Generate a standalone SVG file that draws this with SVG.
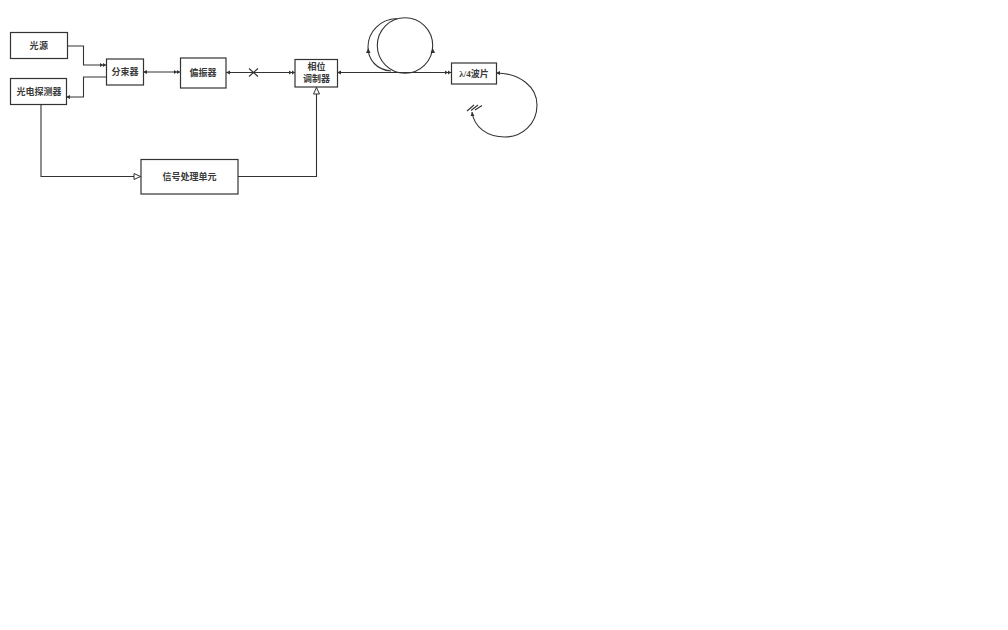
<svg xmlns="http://www.w3.org/2000/svg" width="1008" height="630" viewBox="0 0 1008 630">
<style>
.box{fill:#fff;stroke:#333;stroke-width:1.2}
.ln{fill:none;stroke:#333;stroke-width:1.1}
.t{font-family:"Liberation Serif","Noto Sans CJK SC",serif;font-size:9px;font-weight:700;fill:#3a3a3a;text-anchor:middle}
</style>
<defs>
<marker id="a" markerUnits="userSpaceOnUse" markerWidth="7" markerHeight="6" refX="6" refY="3" orient="auto-start-reverse"><path d="M0,1 L3,3 L0,5 Z M3,1 L6,3 L3,5 Z" fill="#333"/></marker>
<marker id="s" markerUnits="userSpaceOnUse" markerWidth="6" markerHeight="6" refX="4" refY="3" orient="auto-start-reverse"><path d="M0,1 L4,3 L0,5 Z" fill="#333"/></marker>
<marker id="o" markerUnits="userSpaceOnUse" markerWidth="9" markerHeight="8" refX="8" refY="4" orient="auto"><path d="M1,1 L7.500,4 L1,7 Z" fill="#fff" stroke="#333" stroke-width="1"/></marker>
</defs>
<rect width="1008" height="630" fill="#fff"/>
<g id="connectors">
<path class="ln" d="M67,46 H83.500 V65 H106" marker-end="url(#a)"/>
<path class="ln" d="M106,77 H83.500 V97 H66" marker-end="url(#s)"/>
<path class="ln" d="M143,72 H180" marker-start="url(#s)" marker-end="url(#a)"/>
<path class="ln" d="M226,72.500 H295" marker-start="url(#s)" marker-end="url(#a)"/>
<path class="ln" d="M249,68.500 L258,76.500 M258,68.500 L249,76.500"/>
<path class="ln" d="M337,72.500 H451" marker-start="url(#s)" marker-end="url(#a)"/>
<circle class="ln" cx="405" cy="45.500" r="27.700"/>
<path class="ln" d="M397,18.500 C380,19 368,32 368,47 C368,60 377,70 391,71"/>
<path d="M366,53 L368.300,48 L370.500,53 Z M430.500,53 L432.700,48 L435,53 Z" fill="#333"/>
<path class="ln" d="M41,104 V176.500 H141" marker-end="url(#o)"/>
<path class="ln" d="M238,176.500 H316.500 V87" marker-end="url(#o)"/>
<path class="ln" d="M496,73 C520,73 537,87 537,105 C537,124 522,137 505,137 C487,137 474,127 472,112" marker-start="url(#s)" marker-end="url(#s)"/>
<path class="ln" d="M467,111 L474,105 M471,110.500 L478,105 M475,110 L482,105.500"/>
</g>
<g id="n1"><rect class="box" x="10.500" y="32.500" width="57" height="26"/><text class="t" x="39" y="49" letter-spacing="0.500">光源</text></g>
<g id="n2"><rect class="box" x="10.500" y="78.500" width="56" height="26"/><text class="t" x="39" y="95">光电探测器</text></g>
<g id="n3"><rect class="box" x="106.500" y="59" width="37" height="26"/><text class="t" x="125" y="75">分束器</text></g>
<g id="n4"><rect class="box" x="180.500" y="58" width="45.500" height="30"/><text class="t" x="203" y="76">偏振器</text></g>
<g id="n5"><rect class="box" x="295" y="59.500" width="42.500" height="27.500"/><text class="t" x="316.500" y="69.500">相位</text><text class="t" x="316.500" y="81.500">调制器</text></g>
<g id="n6"><rect class="box" x="451.500" y="63" width="45" height="21"/><text class="t" x="474" y="77">λ/4波片</text></g>
<g id="n7"><rect class="box" x="141" y="159.500" width="97" height="34.500"/><text class="t" x="189.500" y="180">信号处理单元</text></g>
</svg>
